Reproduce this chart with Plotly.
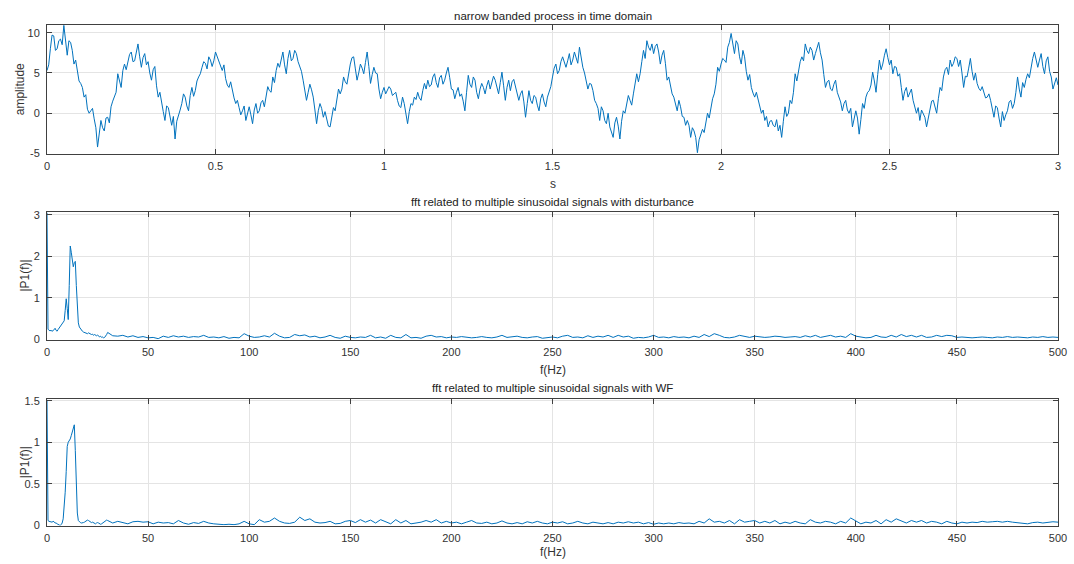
import numpy as np
import plotly.graph_objects as go

# ---------------- data ----------------
# samples read on a 0.01 s grid
amplitude_main = [
    5.3, 8.0, 9.6, 8.0, 9.2, 10.9, 7.2, 8.8, 6.1, 5.3,
    3.7, 2.0, 0.5, 0.3, -0.7, -4.2, -0.9, -2.2, -0.5, 0.8,
    2.0, 4.9, 3.2, 6.1, 6.6, 7.6, 6.5, 8.6, 5.7, 7.4,
    6.4, 4.1, 5.8, 2.0, 1.6, -0.9, 0.7, -1.5, -3.2, -0.1,
    1.2, 2.0, 0.3, 3.2, 2.8, 4.5, 5.7, 6.2, 7.0, 5.8,
    7.6, 6.3, 5.3, 4.3, 3.2, 2.8, 1.2, 0.7, 0.3, -0.9,
    0.8, -1.3, 1.2, 0.3, 1.6, 2.4, 2.8, 4.5, 5.3, 5.7,
    7.6, 4.9, 7.8, 6.8, 7.4, 5.8, 4.1, 1.6, 3.6, 2.0,
    -1.3, 1.2, -0.5, -0.9, -1.7, 0.7, 1.9, 2.4, 4.5, 3.6,
    6.1, 7.0, 4.1, 6.1, 4.9, 7.6, 3.7, 5.7, 4.9, 1.8,
    3.2, 2.8, 3.0, 2.4, 1.6, 0.7, 1.2, -1.3, 1.2, 2.0,
    2.6, 1.6, 3.7, 4.1, 3.5, 4.9, 3.2, 4.7, 4.1, 5.7,
    3.0, 1.8, 3.2, 2.4, 0.3, 4.7, 3.2, 4.1, 1.8, 3.7,
    2.4, 4.1, 3.7, 4.1, 2.4, 5.1, 1.6, 4.1, 3.9, 3.2,
    1.6, 2.8, -0.5, 2.8, 1.2, 2.0, 0.3, 2.4, 0.8, 2.8,
    4.5, 6.1, 5.3, 7.0, 5.7, 7.4, 6.6, 7.0, 8.2, 5.7,
    4.1, 3.7, 2.8, 1.2, -0.9, 0.3, -1.3, -1.7, -3.0, -0.5,
    -3.2, 0.3, 1.2, 1.6, 2.4, 4.9, 4.9, 7.8, 9.0, 7.8,
    7.4, 8.6, 6.1, 7.8, 4.1, 3.2, 2.0, 0.3, 0.8, -0.5,
    -0.9, -3.0, -2.2, -4.9, -2.6, -2.4, 0.0, 0.8, 2.4, 5.7,
    6.1, 6.6, 8.2, 9.9, 7.4, 8.6, 6.1, 7.0, 4.1, 3.2,
    2.0, 1.6, 0.0, -0.9, -1.7, -0.9, -1.7, -2.2, -3.0, 0.8,
    0.0, 1.2, 4.9, 5.3, 7.0, 8.6, 7.4, 7.8, 7.4, 8.8,
    6.6, 3.2, 4.1, 2.8, 4.1, 2.0, 0.3, 1.6, 0.0, -1.7,
    0.3, -2.6, 1.2, 2.0, 2.8, 5.1, 2.6, 6.6, 6.1, 8.0,
    6.0, 4.9, 5.7, 4.9, 1.6, 3.2, 2.4, 1.6, 0.0, -0.9,
    0.0, -1.7, 0.7, 1.6, 0.0, 3.2, 4.5, 5.7, 6.6, 6.2,
    6.8, 6.6, 3.2, 4.5, 6.8, 4.1, 3.7, 2.8, 2.4, 2.0,
    1.6, -0.5, 0.7, -1.7, -0.9, 0.3, 1.6, 1.2, 4.5, 2.0,
    3.2, 4.9, 5.7, 7.6, 5.7, 7.4, 4.9, 7.0, 4.5, 3.7,
    3.5,
]
# samples read half-way between the ones above (t = 0.005, 0.015, ...)
amplitude_mid = [
    6.0, 9.7, 7.8, 9.0, 8.5, 9.3, 9.0, 7.8, 6.6, 4.0,
    3.2, 2.3, 0.0, 0.6, -1.8, -2.4, -1.8, -0.6, -1.2, 1.5,
    2.6, 3.8, 5.3, 5.4, 7.3, 6.4, 7.8, 7.0, 6.9, 6.0,
    5.0, 5.4, 3.4, 2.6, 0.2, 0.9, -0.6, -0.4, -1.0, 0.4,
    2.4, 0.9, 2.2, 2.1, 4.0, 4.9, 6.4, 5.5, 6.6, 6.5,
    7.0, 5.7, 6.0, 3.5, 3.9, 1.9, 1.6, -0.2, 0.9, 0.2,
    -0.2, 0.4, 0.0, 1.3, 0.8, 3.3, 2.6, 3.8, 6.2, 6.6,
    6.0, 6.8, 6.5, 7.8, 6.4, 5.2, 3.0, 2.6, 2.9, 0.4,
    0.3, 0.6, 0.2, -1.6, -0.2, 0.3, 3.0, 3.0, 3.9, 5.0,
    6.9, 5.5, 5.0, 5.6, 6.3, 5.8, 4.8, 5.0, 3.0, 2.6,
    2.4, 3.3, 2.2, 2.6, 0.9, 2.0, 0.0, 0.2, 1.0, 1.7,
    1.9, 2.8, 3.0, 3.3, 4.5, 3.8, 4.4, 3.6, 5.0, 4.4,
    2.9, 2.6, 2.1, 1.5, 2.6, 3.6, 4.5, 2.6, 3.0, 3.2,
    3.4, 3.0, 4.6, 3.0, 3.8, 3.4, 3.2, 2.8, 4.2, 2.2,
    2.4, 1.4, 1.2, 1.6, 2.2, 1.0, 1.8, 1.4, 2.0, 3.3,
    5.6, 4.9, 6.4, 6.2, 6.5, 6.0, 7.6, 6.2, 6.9, 5.0,
    3.0, 3.6, 1.6, 0.6, 0.8, -0.9, 0.0, -2.4, -1.2, -1.6,
    -1.0, 0.0, 2.2, 1.0, 3.5, 3.9, 6.4, 6.8, 8.2, 8.6,
    8.3, 7.6, 7.2, 6.2, 4.5, 2.4, 1.3, 1.6, -0.4, -1.5,
    -1.5, -1.8, -3.0, -3.3, -2.0, -1.0, -0.6, 1.8, 3.6, 5.2,
    6.8, 6.3, 8.8, 8.6, 9.0, 7.0, 7.8, 5.2, 4.8, 2.5,
    2.6, 0.6, 0.4, -0.4, -1.0, -1.5, -0.8, -1.5, -1.0, -0.4,
    1.6, 2.6, 4.0, 6.4, 6.5, 7.8, 8.2, 6.6, 8.0, 7.5,
    4.8, 3.9, 3.0, 3.6, 2.6, 1.4, 1.2, 0.4, 0.6, -0.6,
    -0.6, -0.8, 0.6, 2.6, 3.5, 4.0, 4.8, 5.4, 7.2, 6.9,
    6.6, 5.8, 4.6, 3.2, 2.7, 2.0, 3.0, 0.8, 0.7, 0.4,
    -0.5, -0.6, 1.5, 0.6, 1.8, 2.8, 5.4, 4.8, 5.8, 7.0,
    5.8, 5.0, 4.6, 5.6, 5.2, 5.0, 3.1, 3.3, 1.9, 2.4,
    0.6, 0.9, -0.6, 0.2, -0.2, 1.4, 0.6, 2.6, 3.0, 3.8,
    4.2, 4.4, 6.8, 6.4, 6.6, 5.8, 6.5, 5.2, 3.0, 4.4,
]
time_s = np.round(np.arange(601) * 0.005, 3)
amplitude = [v for pair in zip(amplitude_main[:-1], amplitude_mid) for v in pair] + [amplitude_main[-1]]

freq_hz = np.concatenate([np.arange(0, 30.01, 0.5), np.arange(32.5, 500.01, 2.5)])

p1_disturbance = [
    3.05, 0.25, 0.22, 0.21, 0.22, 0.2, 0.21, 0.24, 0.27, 0.22,
    0.2, 0.24, 0.28, 0.3, 0.36, 0.4, 0.42, 0.45, 0.7, 0.98,
    0.75, 0.48, 1.3, 2.25, 2.1, 1.9, 1.75, 1.85, 1.88, 1.3,
    0.62, 0.4, 0.3, 0.26, 0.24, 0.2, 0.18, 0.17, 0.16, 0.15,
    0.14, 0.16, 0.15, 0.14, 0.12, 0.13, 0.1, 0.12, 0.1, 0.09,
    0.11, 0.08, 0.06, 0.08, 0.05, 0.06, 0.04, 0.05, 0.08, 0.12,
    0.17,
    0.09, 0.08, 0.1, 0.06, 0.09, 0.05, 0.07, 0.04, 0.05, 0.02,
    0.08, 0.05, 0.09, 0.06, 0.08, 0.05, 0.07, 0.06, 0.1, 0.05,
    0.06, 0.04, 0.07, 0.03, 0.05, 0.04, 0.14, 0.08, 0.05, 0.06,
    0.09, 0.06, 0.15, 0.08, 0.04, 0.05, 0.12, 0.09, 0.11, 0.06,
    0.08, 0.04, 0.06, 0.1, 0.05, 0.03, 0.08, 0.05, 0.04, 0.06,
    0.05, 0.1, 0.04, 0.06, 0.03, 0.1, 0.05, 0.04, 0.12, 0.04,
    0.05, 0.03, 0.08, 0.1, 0.06, 0.07, 0.04, 0.06, 0.05, 0.07,
    0.06, 0.04, 0.05, 0.07, 0.05, 0.04, 0.06, 0.1, 0.05, 0.06,
    0.08, 0.05, 0.04, 0.06, 0.07, 0.03, 0.05, 0.06, 0.04, 0.08,
    0.1, 0.05, 0.06, 0.04, 0.09, 0.05, 0.08, 0.06, 0.1, 0.05,
    0.1, 0.06, 0.08, 0.03, 0.05, 0.04, 0.06, 0.1, 0.05, 0.06,
    0.04, 0.07, 0.05, 0.06, 0.04, 0.08, 0.05, 0.12, 0.07, 0.14,
    0.1, 0.05, 0.04, 0.06, 0.1, 0.07, 0.05, 0.08, 0.06, 0.05,
    0.06, 0.08, 0.07, 0.05, 0.06, 0.07, 0.05, 0.09, 0.06, 0.1,
    0.05, 0.07, 0.1, 0.06, 0.08, 0.05, 0.14, 0.08, 0.06, 0.04,
    0.05, 0.1, 0.06, 0.05, 0.1, 0.06, 0.12, 0.07, 0.1, 0.06,
    0.1, 0.05, 0.06, 0.1, 0.07, 0.1, 0.09, 0.05, 0.06, 0.05,
    0.04, 0.05, 0.06, 0.05, 0.04, 0.06, 0.05, 0.07, 0.05, 0.06,
    0.05, 0.04, 0.06, 0.05, 0.07, 0.05, 0.06, 0.05,
]

p1_wf = [
    1.51, 0.06, 0.05, 0.045, 0.045, 0.04, 0.05, 0.045, 0.03, 0.03,
    0.02, 0.01, 0.005, 0.0, 0.01, 0.03, 0.08, 0.2, 0.4, 0.65,
    0.95, 1.0, 1.02, 1.04, 1.08, 1.12, 1.17, 1.21, 0.9, 0.45,
    0.15, 0.06, 0.04, 0.035, 0.03, 0.03, 0.035, 0.04, 0.05, 0.06,
    0.065, 0.06, 0.05, 0.04, 0.035, 0.04, 0.035, 0.025, 0.02, 0.03,
    0.035, 0.03, 0.02, 0.015, 0.02, 0.03, 0.04, 0.05, 0.06, 0.065,
    0.06,
    0.03, 0.05, 0.035, 0.02, 0.045, 0.05, 0.04, 0.045, 0.02, 0.04,
    0.03, 0.035, 0.02, 0.06, 0.03, 0.015, 0.035, 0.025, 0.05, 0.03,
    0.02, 0.015, 0.01, 0.015, 0.01, 0.02, 0.05, 0.02, 0.01, 0.07,
    0.04, 0.05, 0.09, 0.05, 0.03, 0.025, 0.04, 0.1, 0.06, 0.08,
    0.04, 0.03, 0.035, 0.05, 0.02, 0.025, 0.05, 0.06, 0.035, 0.07,
    0.04, 0.065, 0.03, 0.07, 0.04, 0.02, 0.07, 0.03, 0.06, 0.02,
    0.03, 0.04, 0.06, 0.04, 0.07, 0.03, 0.05, 0.03, 0.04, 0.02,
    0.04, 0.06, 0.03, 0.025, 0.04, 0.02, 0.03, 0.055, 0.03, 0.02,
    0.035, 0.02, 0.045, 0.03, 0.05, 0.03, 0.02, 0.04, 0.03, 0.045,
    0.02, 0.03, 0.05, 0.03, 0.02, 0.04, 0.03, 0.02, 0.035, 0.02,
    0.04, 0.03, 0.045, 0.03, 0.04, 0.02, 0.035, 0.015, 0.03, 0.02,
    0.03, 0.02, 0.035, 0.025, 0.03, 0.02, 0.05, 0.03, 0.08, 0.04,
    0.05, 0.03, 0.06, 0.02, 0.07, 0.04, 0.05, 0.06, 0.03, 0.05,
    0.03, 0.06, 0.02, 0.04, 0.025, 0.05, 0.03, 0.02, 0.07, 0.04,
    0.03, 0.05, 0.04, 0.02, 0.05, 0.03, 0.09, 0.06, 0.02, 0.04,
    0.03, 0.06, 0.02, 0.07, 0.04, 0.08, 0.05, 0.03, 0.06, 0.04,
    0.06, 0.03, 0.05, 0.04, 0.02, 0.05, 0.03, 0.02, 0.04, 0.03,
    0.04, 0.035, 0.05, 0.04, 0.045, 0.05, 0.04, 0.05, 0.04, 0.035,
    0.03, 0.02, 0.035, 0.04, 0.03, 0.04, 0.045, 0.04,
]

time_ticks = [0, 0.5, 1, 1.5, 2, 2.5, 3]
time_tick_text = ["0", "0.5", "1", "1.5", "2", "2.5", "3"]
amp_ticks = [-5, 0, 5, 10]
freq_ticks = [0, 50, 100, 150, 200, 250, 300, 350, 400, 450, 500]
p1_ticks = [0, 1, 2, 3]
wf_ticks = [0, 0.5, 1, 1.5]
wf_tick_text = ["0", "0.5", "1", "1.5"]

titles = [
    "narrow banded process in time domain",
    "fft related to multiple sinusoidal signals with disturbance",
    "fft related to multiple sinusoidal signals with WF",
]

# ---------------- figure ----------------
W, H = 1074, 564
LINE = "#0072BD"
AX = "#404040"
GRID = "#e4e4e4"
FONT = "Liberation Sans, Arial, sans-serif"

def px(v):
    return v / W

def py(v):
    return 1 - v / H

x_dom = [px(47), px(1058)]
panels = [(25, 153.5), (211.5, 339.5), (399, 525.5)]

fig = go.Figure()
fig.add_trace(go.Scatter(x=time_s, y=amplitude, mode="lines",
                         line=dict(color=LINE, width=1), xaxis="x", yaxis="y"))
fig.add_trace(go.Scatter(x=freq_hz, y=p1_disturbance, mode="lines",
                         line=dict(color=LINE, width=1), xaxis="x2", yaxis="y2"))
fig.add_trace(go.Scatter(x=freq_hz, y=p1_wf, mode="lines",
                         line=dict(color=LINE, width=1), xaxis="x3", yaxis="y3"))

common = dict(showline=True, linecolor=AX, linewidth=1, mirror="ticks",
              ticks="inside", ticklen=5, tickcolor=AX, tickwidth=1,
              showgrid=True, gridcolor=GRID, gridwidth=1, zeroline=False,
              automargin=False,
              tickfont=dict(family=FONT, size=11, color="#333333"))

layout = dict(
    width=W, height=H, margin=dict(l=0, r=0, t=0, b=0, autoexpand=False),
    paper_bgcolor="white", plot_bgcolor="white", showlegend=False,
    font=dict(family=FONT, size=11, color="#333333"),
)
yranges = [[-5, 10.95], [0, 3.08], [0, 1.52]]
xranges = [[0, 3], [0, 500], [0, 500]]
xtick = [(time_ticks, time_tick_text), (freq_ticks, [str(v) for v in freq_ticks]),
         (freq_ticks, [str(v) for v in freq_ticks])]
ytick = [(amp_ticks, [str(v) for v in amp_ticks]), (p1_ticks, [str(v) for v in p1_ticks]),
         (wf_ticks, wf_tick_text)]
for i, (top, bot) in enumerate(panels):
    s = "" if i == 0 else str(i + 1)
    layout["xaxis" + s] = dict(common, domain=x_dom, range=xranges[i],
                               anchor="y" + s, tickmode="array",
                               tickvals=xtick[i][0], ticktext=xtick[i][1],
                               ticklabelstandoff=2)
    layout["yaxis" + s] = dict(common, domain=[py(bot), py(top)], range=yranges[i],
                               anchor="x" + s, tickmode="array",
                               tickvals=ytick[i][0], ticktext=ytick[i][1],
                               ticklabelstandoff=4)
fig.update_layout(**layout)

ann = []
title_y = [16, 202, 388]
xlabel_y = [184, 370, 552]
xlabels = ["s", "f(Hz)", "f(Hz)"]
ylabels = ["amplitude", "|P1(f)|", "|P1(f)|"]
ylabel_x = [20, 25, 25]
for i, (top, bot) in enumerate(panels):
    ann.append(dict(text=titles[i], x=px(552.5), y=py(title_y[i]), xref="paper", yref="paper",
                    showarrow=False, xanchor="center", yanchor="middle",
                    font=dict(family=FONT, size=11.5, color="#222222")))
    ann.append(dict(text=xlabels[i], x=px(552.5), y=py(xlabel_y[i]), xref="paper", yref="paper",
                    showarrow=False, xanchor="center", yanchor="middle",
                    font=dict(family=FONT, size=12, color="#333333")))
    ann.append(dict(text=ylabels[i], x=px(ylabel_x[i]), y=py((top + bot) / 2), xref="paper",
                    yref="paper", showarrow=False, xanchor="center", yanchor="middle",
                    textangle=-90, font=dict(family=FONT, size=12, color="#333333")))
fig.update_layout(annotations=ann)

fig.write_html("out.html")
